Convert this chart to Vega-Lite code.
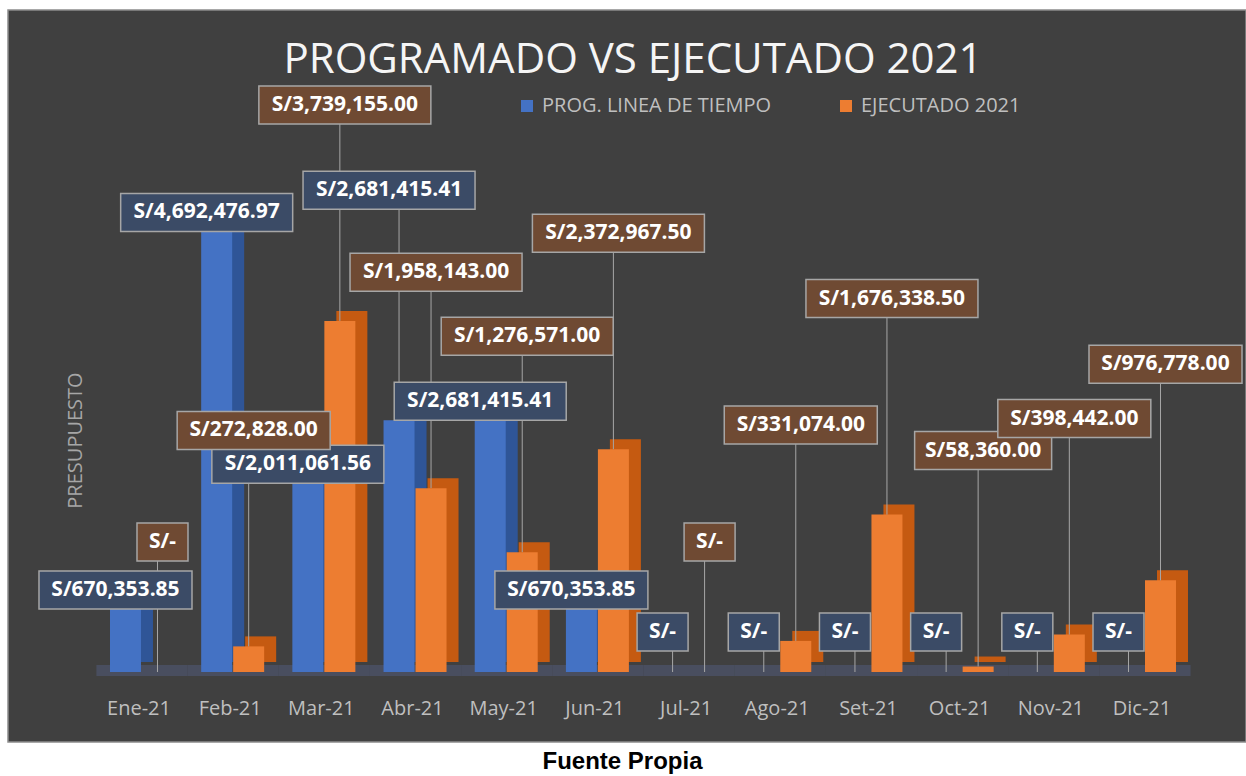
{
  "$schema": "https://vega.github.io/schema/vega-lite/v6.json",
  "width": 1238,
  "height": 732,
  "autosize": {"type": "none"},
  "padding": {"left": 8, "top": 10, "right": 0, "bottom": 34},
  "background": "#ffffff",
  "title": {"text": "PROGRAMADO VS EJECUTADO 2021", "orient": "top", "anchor": "middle", "frame": "group", "offset": -105, "baseline": "alphabetic", "dx": 6, "font": "Open Sans", "fontSize": 42, "fontWeight": "normal", "color": "#f5f5f5"},
  "data": {"values": [
    {"mes": "Ene-21", "serie": "PROG. LINEA DE TIEMPO", "valor": 670353.85},
    {"mes": "Feb-21", "serie": "PROG. LINEA DE TIEMPO", "valor": 4692476.97},
    {"mes": "Mar-21", "serie": "PROG. LINEA DE TIEMPO", "valor": 2011061.56},
    {"mes": "Abr-21", "serie": "PROG. LINEA DE TIEMPO", "valor": 2681415.41},
    {"mes": "May-21", "serie": "PROG. LINEA DE TIEMPO", "valor": 2681415.41},
    {"mes": "Jun-21", "serie": "PROG. LINEA DE TIEMPO", "valor": 670353.85},
    {"mes": "Jul-21", "serie": "PROG. LINEA DE TIEMPO", "valor": 0},
    {"mes": "Ago-21", "serie": "PROG. LINEA DE TIEMPO", "valor": 0},
    {"mes": "Set-21", "serie": "PROG. LINEA DE TIEMPO", "valor": 0},
    {"mes": "Oct-21", "serie": "PROG. LINEA DE TIEMPO", "valor": 0},
    {"mes": "Nov-21", "serie": "PROG. LINEA DE TIEMPO", "valor": 0},
    {"mes": "Dic-21", "serie": "PROG. LINEA DE TIEMPO", "valor": 0},
    {"mes": "Ene-21", "serie": "EJECUTADO 2021", "valor": 0},
    {"mes": "Feb-21", "serie": "EJECUTADO 2021", "valor": 272828},
    {"mes": "Mar-21", "serie": "EJECUTADO 2021", "valor": 3739155},
    {"mes": "Abr-21", "serie": "EJECUTADO 2021", "valor": 1958143},
    {"mes": "May-21", "serie": "EJECUTADO 2021", "valor": 1276571},
    {"mes": "Jun-21", "serie": "EJECUTADO 2021", "valor": 2372967.5},
    {"mes": "Jul-21", "serie": "EJECUTADO 2021", "valor": 0},
    {"mes": "Ago-21", "serie": "EJECUTADO 2021", "valor": 331074},
    {"mes": "Set-21", "serie": "EJECUTADO 2021", "valor": 1676338.5},
    {"mes": "Oct-21", "serie": "EJECUTADO 2021", "valor": 58360},
    {"mes": "Nov-21", "serie": "EJECUTADO 2021", "valor": 398442},
    {"mes": "Dic-21", "serie": "EJECUTADO 2021", "valor": 976778}
  ]},
  "transform": [
    {"calculate": "datum.valor == 0 ? 'S/-' : 'S/' + format(datum.valor, ',.2f')", "as": "lbl"}
  ],
  "encoding": {
    "x": {
      "field": "mes", "type": "nominal",
      "sort": ["Ene-21", "Feb-21", "Mar-21", "Abr-21", "May-21", "Jun-21", "Jul-21", "Ago-21", "Set-21", "Oct-21", "Nov-21", "Dic-21"],
      "scale": {"paddingInner": 0, "paddingOuter": 0.7886, "align": 0.6147},
      "axis": {"title": "Fuente Propia", "orient": "bottom", "domain": false, "ticks": false, "tickSize": 0, "grid": false, "labelAngle": 0, "labelPadding": -28, "labelBaseline": "alphabetic", "labelFont": "Open Sans", "labelFontSize": 20, "labelColor": "#bfbfbf", "labelOffset": -3, "titleFont": "Liberation Sans", "titleFontSize": 24, "titleFontWeight": "bold", "titleColor": "#000000", "titleX": 614, "titleY": 26, "titleBaseline": "alphabetic", "titleAlign": "center"}
    },
    "y": {
      "field": "valor", "type": "quantitative",
      "scale": {"domain": [-745500, 7050300], "nice": false, "zero": false},
      "axis": {"title": "PRESUPUESTO", "orient": "left", "labels": false, "ticks": false, "domain": false, "grid": false, "titleX": 67, "titleY": 430, "titleAngle": -90, "titleBaseline": "middle", "titleAlign": "center", "titleFont": "Open Sans", "titleFontSize": 20, "titleFontWeight": "normal", "titleColor": "#a6a6a6"}
    }
  },
  "layer": [
    {"transform": [{"filter": "datum.serie == 'PROG. LINEA DE TIEMPO'"}],
     "mark": {"type": "bar", "width": {"band": 1}, "yOffset": 4, "y2Offset": -7, "color": "#505a78", "opacity": 0.55},
     "encoding": {"y": {"datum": 0}, "y2": {"datum": 0}}},
    {"transform": [{"filter": "datum.serie == 'PROG. LINEA DE TIEMPO'"}],
     "mark": {"type": "bar", "width": 31, "xOffset": -4.5, "yOffset": -10, "y2Offset": -10, "color": "#2F5597"},
     "encoding": {"y2": {"datum": 0}}},
    {"transform": [{"filter": "datum.serie == 'PROG. LINEA DE TIEMPO'"}],
     "mark": {"type": "bar", "width": 31, "xOffset": -16.5},
     "encoding": {"y2": {"datum": 0},
       "color": {"field": "serie", "type": "nominal", "scale": {"domain": ["PROG. LINEA DE TIEMPO", "EJECUTADO 2021"], "range": ["#4472C4", "#ED7D31"]},
         "legend": {"orient": "none", "legendX": 509, "legendY": 86, "direction": "horizontal", "title": null, "symbolType": "square", "symbolSize": 144, "symbolStrokeWidth": 0, "symbolOpacity": 1, "labelFont": "Open Sans", "labelFontSize": 20, "labelColor": "#bfbfbf", "labelOffset": 5, "columnPadding": 64, "labelLimit": 400}}}},
    {"transform": [{"filter": "datum.serie == 'EJECUTADO 2021'"}],
     "mark": {"type": "bar", "width": 31, "xOffset": 27.5, "yOffset": -10, "y2Offset": -10, "color": "#C55A11"},
     "encoding": {"y2": {"datum": 0}}},
    {"transform": [{"filter": "datum.serie == 'EJECUTADO 2021'"}],
     "mark": {"type": "bar", "width": 31, "xOffset": 15.5},
     "encoding": {"y2": {"datum": 0},
       "color": {"field": "serie", "type": "nominal", "scale": {"domain": ["PROG. LINEA DE TIEMPO", "EJECUTADO 2021"], "range": ["#4472C4", "#ED7D31"]}}}},

    {"transform": [{"filter": "datum.serie == 'PROG. LINEA DE TIEMPO' && datum.valor > 0 && datum.mes != 'Abr-21'"}],
     "mark": {"type": "rule", "color": "#a6a6a6", "strokeWidth": 1, "xOffset": -16.5, "y2Offset": -19},
     "encoding": {"y2": {"field": "valor"}}},
    {"transform": [{"filter": "datum.serie == 'PROG. LINEA DE TIEMPO' && datum.mes == 'Abr-21'"}],
     "mark": {"type": "rule", "color": "#a6a6a6", "strokeWidth": 1, "xOffset": -16.5, "y2Offset": -230},
     "encoding": {"y2": {"field": "valor"}}},
    {"transform": [{"filter": "datum.serie == 'PROG. LINEA DE TIEMPO' && datum.valor == 0"}],
     "mark": {"type": "rule", "color": "#a6a6a6", "strokeWidth": 1, "xOffset": -16.5, "y2Offset": -40},
     "encoding": {"y2": {"field": "valor"}}},
    {"transform": [{"filter": "datum.serie == 'EJECUTADO 2021' && datum.valor > 0"}],
     "mark": {"type": "rule", "color": "#a6a6a6", "strokeWidth": 1, "xOffset": 15.5, "y2Offset": -216},
     "encoding": {"y2": {"field": "valor"}}},
    {"transform": [{"filter": "datum.serie == 'EJECUTADO 2021' && datum.valor == 0"}],
     "mark": {"type": "rule", "color": "#a6a6a6", "strokeWidth": 1, "xOffset": 15.5, "y2Offset": -130},
     "encoding": {"y2": {"field": "valor"}}},

    {"transform": [{"filter": "datum.serie == 'PROG. LINEA DE TIEMPO' && datum.valor > 0 && datum.mes != 'Abr-21'"}],
     "mark": {"type": "point", "filled": true, "fill": "#3B4B66", "stroke": "#A6A6A6", "strokeWidth": 1.5, "opacity": 1, "fillOpacity": 1, "size": 10000, "xOffset": -26.5, "yOffset": -19},
     "encoding": {"shape": {"condition": [{"test": "length(datum.lbl) >= 14", "value": "M-1.72,-0.38H1.72V0.38H-1.72Z"}, {"test": "length(datum.lbl) == 12", "value": "M-1.53,-0.38H1.53V0.38H-1.53Z"}, {"test": "length(datum.lbl) == 11", "value": "M-1.37,-0.38H1.37V0.38H-1.37Z"}], "value": "M-0.51,-0.38H0.51V0.38H-0.51Z"}}},
    {"transform": [{"filter": "datum.serie == 'PROG. LINEA DE TIEMPO' && datum.mes == 'Abr-21'"}],
     "mark": {"type": "point", "filled": true, "fill": "#3B4B66", "stroke": "#A6A6A6", "strokeWidth": 1.5, "opacity": 1, "fillOpacity": 1, "size": 10000, "xOffset": -26.5, "yOffset": -230},
     "encoding": {"shape": {"condition": [{"test": "length(datum.lbl) >= 14", "value": "M-1.72,-0.38H1.72V0.38H-1.72Z"}, {"test": "length(datum.lbl) == 12", "value": "M-1.53,-0.38H1.53V0.38H-1.53Z"}, {"test": "length(datum.lbl) == 11", "value": "M-1.37,-0.38H1.37V0.38H-1.37Z"}], "value": "M-0.51,-0.38H0.51V0.38H-0.51Z"}}},
    {"transform": [{"filter": "datum.serie == 'PROG. LINEA DE TIEMPO' && datum.valor == 0"}],
     "mark": {"type": "point", "filled": true, "fill": "#3B4B66", "stroke": "#A6A6A6", "strokeWidth": 1.5, "opacity": 1, "fillOpacity": 1, "size": 10000, "xOffset": -26.5, "yOffset": -40},
     "encoding": {"shape": {"condition": [{"test": "length(datum.lbl) >= 14", "value": "M-1.72,-0.38H1.72V0.38H-1.72Z"}, {"test": "length(datum.lbl) == 12", "value": "M-1.53,-0.38H1.53V0.38H-1.53Z"}, {"test": "length(datum.lbl) == 11", "value": "M-1.37,-0.38H1.37V0.38H-1.37Z"}], "value": "M-0.51,-0.38H0.51V0.38H-0.51Z"}}},
    {"transform": [{"filter": "datum.serie == 'EJECUTADO 2021' && datum.valor > 0"}],
     "mark": {"type": "point", "filled": true, "fill": "#6F4A33", "stroke": "#A6A6A6", "strokeWidth": 1.5, "opacity": 1, "fillOpacity": 1, "size": 10000, "xOffset": 20.5, "yOffset": -216},
     "encoding": {"shape": {"condition": [{"test": "length(datum.lbl) >= 14", "value": "M-1.72,-0.38H1.72V0.38H-1.72Z"}, {"test": "length(datum.lbl) == 12", "value": "M-1.53,-0.38H1.53V0.38H-1.53Z"}, {"test": "length(datum.lbl) == 11", "value": "M-1.37,-0.38H1.37V0.38H-1.37Z"}], "value": "M-0.51,-0.38H0.51V0.38H-0.51Z"}}},
    {"transform": [{"filter": "datum.serie == 'EJECUTADO 2021' && datum.valor == 0"}],
     "mark": {"type": "point", "filled": true, "fill": "#6F4A33", "stroke": "#A6A6A6", "strokeWidth": 1.5, "opacity": 1, "fillOpacity": 1, "size": 10000, "xOffset": 20.5, "yOffset": -130},
     "encoding": {"shape": {"condition": [{"test": "length(datum.lbl) >= 14", "value": "M-1.72,-0.38H1.72V0.38H-1.72Z"}, {"test": "length(datum.lbl) == 12", "value": "M-1.53,-0.38H1.53V0.38H-1.53Z"}, {"test": "length(datum.lbl) == 11", "value": "M-1.37,-0.38H1.37V0.38H-1.37Z"}], "value": "M-0.51,-0.38H0.51V0.38H-0.51Z"}}},

    {"transform": [{"filter": "datum.serie == 'PROG. LINEA DE TIEMPO' && datum.valor > 0 && datum.mes != 'Abr-21'"}],
     "mark": {"type": "text", "font": "Open Sans", "fontWeight": "bold", "fontSize": 21, "color": "#ffffff", "align": "center", "baseline": "middle", "xOffset": -26.5, "yOffset": -19},
     "encoding": {"text": {"field": "lbl"}}},
    {"transform": [{"filter": "datum.serie == 'PROG. LINEA DE TIEMPO' && datum.mes == 'Abr-21'"}],
     "mark": {"type": "text", "font": "Open Sans", "fontWeight": "bold", "fontSize": 21, "color": "#ffffff", "align": "center", "baseline": "middle", "xOffset": -26.5, "yOffset": -230},
     "encoding": {"text": {"field": "lbl"}}},
    {"transform": [{"filter": "datum.serie == 'PROG. LINEA DE TIEMPO' && datum.valor == 0"}],
     "mark": {"type": "text", "font": "Open Sans", "fontWeight": "bold", "fontSize": 21, "color": "#ffffff", "align": "center", "baseline": "middle", "xOffset": -26.5, "yOffset": -40},
     "encoding": {"text": {"field": "lbl"}}},
    {"transform": [{"filter": "datum.serie == 'EJECUTADO 2021' && datum.valor > 0"}],
     "mark": {"type": "text", "font": "Open Sans", "fontWeight": "bold", "fontSize": 21, "color": "#ffffff", "align": "center", "baseline": "middle", "xOffset": 20.5, "yOffset": -216},
     "encoding": {"text": {"field": "lbl"}}},
    {"transform": [{"filter": "datum.serie == 'EJECUTADO 2021' && datum.valor == 0"}],
     "mark": {"type": "text", "font": "Open Sans", "fontWeight": "bold", "fontSize": 21, "color": "#ffffff", "align": "center", "baseline": "middle", "xOffset": 20.5, "yOffset": -130},
     "encoding": {"text": {"field": "lbl"}}}
  ],
  "config": {"view": {"fill": "#404040", "stroke": "#8c8c8c", "strokeWidth": 1.5}}
}
